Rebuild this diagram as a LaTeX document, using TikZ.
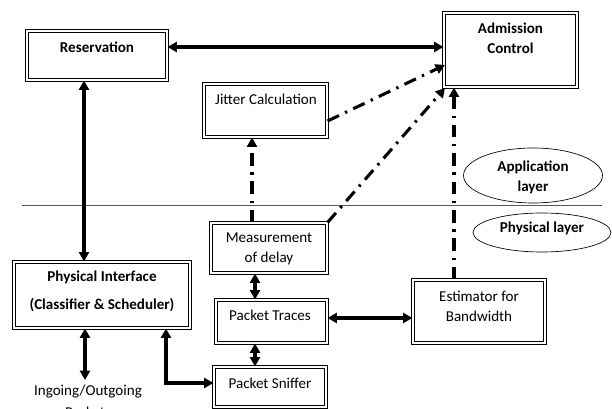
\documentclass[tikz,border=0pt]{standalone}
\usepackage{fontspec}
\setmainfont{Carlito}
\usetikzlibrary{arrows.meta,shapes.geometric}
\begin{document}
\begin{tikzpicture}[x=0.75pt,y=-0.75pt,
  dbox/.style={draw, line width=0.85pt, double=white, double distance=1.5pt, minimum width=#1, inner sep=0pt, rectangle},
  txt/.style={font=\fontsize{11.3}{13}\selectfont, inner sep=0pt},
  btxt/.style={font=\fontsize{11.3}{13}\selectfont\bfseries, inner sep=0pt},
  lay/.style={draw, ellipse, line width=0.5pt, inner sep=0pt},
  arr/.style={line width=2.3pt, -{Triangle[length=7pt,width=7.5pt]}},
  barr/.style={line width=2.3pt, {Triangle[length=7pt,width=7.5pt]}-{Triangle[length=7pt,width=7.5pt]}},
  dd/.style={line width=2.3pt, dash pattern=on 9.5pt off 5pt on 1.8pt off 5pt, -{Triangle[length=7pt,width=7.5pt]}}
]
\useasboundingbox (0,0) rectangle (612,409);
\clip (0,0) rectangle (612,409);
\fill[white] (0,0) rectangle (612,409);

% layer separator
\draw[gray!70!black, line width=0.6pt] (22,205) -- (602,205);

% boxes
\node[dbox=140*0.75pt, minimum height=49*0.75pt] (res) at (97,55.5) {};
\node[dbox=133*0.75pt, minimum height=74*0.75pt] (ac) at (510.5,50) {};
\node[dbox=123*0.75pt, minimum height=53*0.75pt] (jit) at (265.5,110.5) {};
\node[dbox=116*0.75pt, minimum height=50*0.75pt] (meas) at (269,248) {};
\node[dbox=176*0.75pt, minimum height=66*0.75pt] (phy) at (102,295) {};
\node[dbox=111*0.75pt, minimum height=43*0.75pt] (tr) at (271.5,321.5) {};
\node[dbox=112*0.75pt, minimum height=40*0.75pt] (sn) at (270,387) {};
\node[dbox=132*0.75pt, minimum height=63*0.75pt] (est) at (479,311.5) {};

% ellipses
\node[lay, minimum width=139*0.75pt, minimum height=55*0.75pt] (app) at (533,175.5) {};
\node[lay, minimum width=138*0.75pt, minimum height=39*0.75pt] (phl) at (542,232.5) {};

% texts
\node[btxt] (tres) at (97,47) {Reservation};
\node[btxt] (tac1) at (510.5,28) {Admission};
\node[btxt] (tac2) at (510.5,48) {Control};
\node[txt] (tjit) at (266,99) {Jitter Calculation};
\node[btxt] (tapp1) at (533,167) {Application};
\node[btxt] (tapp2) at (533,187) {layer};
\node[btxt] (tphl) at (542,228) {Physical layer};
\node[txt] (tmeas1) at (269,238) {Measurement};
\node[txt] (tmeas2) at (269,258) {of delay};
\node[btxt] (tphy1) at (102,277) {Physical Interface};
\node[btxt] (tphy2) at (102,305) {(Classifier \& Scheduler)};
\node[txt] (ttr) at (270,315) {Packet Traces};
\node[txt] (tsn) at (270,383) {Packet Sniffer};
\node[txt] (test1) at (479,296) {Estimator for};
\node[txt] (test2) at (479,316) {Bandwidth};
\node[txt] (ting) at (88,392) {Ingoing/Outgoing};
\node[txt] (tpk) at (88,412) {Packets};

% coordinates
\coordinate (ac1) at (445,65);
\coordinate (ac2) at (445,88);
\coordinate (bend) at (166,383);
\coordinate (ingtop) at (85,380);

% connectors
\draw[barr] (res.east |- 0,47) -- (ac.west |- 0,47);
\draw[barr] (res.south -| 84,0) -- (phy.north -| 84,0);
\draw[dd] (jit.east |- 0,121) -- (ac1);
\draw[dd] (meas.north east) -- (ac2);
\draw[dd] (meas.north -| 252,0) -- (jit.south -| 252,0);
\draw[dd] (est.north -| 454,0) -- (ac.south -| 454,0);
\draw[barr] (meas.south -| 255,0) -- (tr.north -| 255,0);
\draw[barr] (tr.south -| 255,0) -- (sn.north -| 255,0);
\draw[barr] (tr.east |- 0,318) -- (est.west |- 0,318);
\draw[barr] (phy.south -| 85,0) -- (ingtop);
\draw[barr] (phy.south -| 166,0) -- (bend) -- (sn.west |- bend);
\end{tikzpicture}
\end{document}
